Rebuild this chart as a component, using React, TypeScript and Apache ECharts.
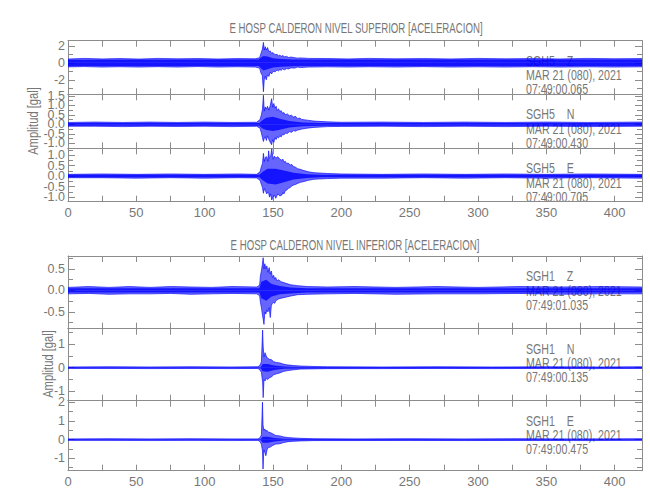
import React, { useEffect, useRef } from "react";
import * as echarts from "echarts";

// ---------- texts ----------
const titleTop = "E HOSP CALDERON NIVEL SUPERIOR [ACELERACION]";
const titleBottom = "E HOSP CALDERON NIVEL INFERIOR [ACELERACION]";
const yAxisTitle = "Amplitud [gal]";
const stationLabels = ["SGH5    Z", "SGH5    N", "SGH5    E", "SGH1    Z", "SGH1    N", "SGH1    E"];
const dateLabel = "MAR 21 (080), 2021";
const startTimes = ["07:49:00.065", "07:49:00.430", "07:49:00.705", "07:49:01.035", "07:49:00.135", "07:49:00.475"];

// ---------- axes ----------
const xMin = 0;
const xMax = 420;
const xStep = 50;
const yMins = [-3.7, -1.26, -1.22, -0.89, -1.39, -1.66];
const yMaxs = [2.6, 1.58, 1.32, 0.8, 1.64, 2.08];
const ySplitCounts = [3, 6, 5, 3, 3, 4];
const yDecimals = [0, 1, 1, 1, 0, 0];

// ---------- outer envelopes: [time s, upper, lower] ----------
const sgh5Z = [
  [0, 0.45, -0.48], [12, 0.52, -0.44], [25, 0.46, -0.5], [38, 0.5, -0.46], [52, 0.44, -0.5],
  [66, 0.52, -0.45], [80, 0.47, -0.5], [95, 0.5, -0.44], [110, 0.45, -0.5], [124, 0.5, -0.46],
  [137, 0.47, -0.5], [140.2, 0.6, -0.62], [141.2, 1.1, -1.2], [142.2, 1.6, -1.5], [143, 2.4, -3.4],
  [143.6, 1.5, -2.0], [144.3, 1.9, -1.6], [145.1, 1.5, -2.0], [146, 1.8, -1.4], [147, 1.3, -1.6],
  [148, 1.4, -1.1], [149, 1.1, -1.3], [150, 1.2, -1.0], [151.5, 0.95, -1.05], [153, 1.0, -0.85],
  [154, 0.8, -0.95], [155, 0.92, -0.8], [156, 0.75, -0.88], [157, 0.85, -0.72], [158.5, 0.7, -0.82],
  [160, 0.75, -0.68], [161.5, 0.62, -0.72], [163, 0.68, -0.6], [166, 0.6, -0.62], [168, 0.55, -0.5],
  [170, 0.58, -0.56], [176, 0.52, -0.5], [190, 0.5, -0.47], [205, 0.46, -0.5], [220, 0.52, -0.46],
  [240, 0.47, -0.5], [260, 0.5, -0.45], [280, 0.46, -0.5], [300, 0.52, -0.47], [320, 0.47, -0.5],
  [340, 0.5, -0.46], [360, 0.46, -0.5], [380, 0.52, -0.47], [400, 0.48, -0.5], [420, 0.5, -0.47],
];
const sgh5N = [
  [0, 0.1, -0.1], [20, 0.12, -0.1], [40, 0.1, -0.12], [60, 0.12, -0.1], [80, 0.1, -0.11],
  [100, 0.12, -0.1], [120, 0.1, -0.12], [138, 0.11, -0.1], [140.5, 0.25, -0.2], [141.5, 0.5, -0.45],
  [142.3, 0.8, -0.7], [143, 1.53, -0.9], [143.6, 0.7, -0.75], [144.3, 0.92, -0.65], [145.2, 0.8, -0.85],
  [146, 0.95, -0.6], [147, 0.75, -0.8], [148, 1.0, -0.95], [149, 1.35, -1.07], [149.8, 0.9, -0.8],
  [150.6, 1.1, -0.95], [151.5, 0.85, -0.7], [152.3, 0.95, -0.8], [153, 0.72, -0.65], [154, 0.82, -0.72],
  [155, 0.68, -0.6], [156, 0.72, -0.66], [157, 0.58, -0.52], [158, 0.62, -0.56], [159, 0.5, -0.46],
  [160.5, 0.55, -0.48], [162, 0.45, -0.38], [163.5, 0.48, -0.42], [165, 0.38, -0.33], [166.5, 0.42, -0.36],
  [168, 0.3, -0.3], [169.5, 0.33, -0.28], [171, 0.26, -0.25], [175, 0.22, -0.2], [180, 0.17, -0.16],
  [190, 0.13, -0.12], [200, 0.11, -0.11], [230, 0.12, -0.1], [260, 0.1, -0.12], [290, 0.12, -0.1],
  [320, 0.1, -0.12], [350, 0.12, -0.1], [380, 0.1, -0.12], [420, 0.12, -0.1],
];
const sgh5E = [
  [0, 0.08, -0.08], [25, 0.1, -0.08], [50, 0.08, -0.1], [75, 0.1, -0.08], [100, 0.08, -0.1],
  [125, 0.1, -0.08], [138, 0.08, -0.09], [140.5, 0.2, -0.2], [141.5, 0.45, -0.4], [142.3, 0.6, -0.55],
  [143, 1.08, -0.82], [143.7, 0.7, -0.6], [144.5, 0.9, -0.7], [145.4, 0.92, -0.85], [146.3, 0.7, -0.75],
  [146.8, 1.2, -0.8], [147.4, 0.85, -1.0], [148.2, 0.9, -0.85], [149.1, 1.3, -1.14], [150, 0.8, -1.0],
  [151, 0.95, -0.9], [152, 0.85, -1.06], [153.5, 0.92, -0.85], [155, 0.8, -0.95], [156.5, 0.75, -0.9],
  [157.3, 0.8, -0.78], [158, 0.66, -0.85], [159, 0.7, -0.7], [160, 0.6, -0.67], [161.2, 0.62, -0.58],
  [162.5, 0.52, -0.55], [163.8, 0.55, -0.47], [165, 0.45, -0.43], [166.5, 0.42, -0.4], [168, 0.35, -0.35],
  [170, 0.32, -0.3], [172, 0.27, -0.27], [176, 0.2, -0.2], [180, 0.16, -0.15], [190, 0.12, -0.12],
  [200, 0.1, -0.1], [230, 0.08, -0.1], [260, 0.1, -0.08], [290, 0.08, -0.1], [320, 0.1, -0.08],
  [350, 0.08, -0.1], [380, 0.1, -0.08], [420, 0.08, -0.1],
];
const sgh1Z = [
  [0, 0.07, -0.08], [15, 0.09, -0.07], [30, 0.07, -0.09], [45, 0.09, -0.08], [60, 0.07, -0.08],
  [75, 0.09, -0.07], [90, 0.08, -0.09], [105, 0.07, -0.08], [120, 0.09, -0.07], [138, 0.08, -0.08],
  [140.2, 0.12, -0.12], [140.8, 0.34, -0.28], [141.5, 0.45, -0.4], [142.2, 0.6, -0.55], [142.8, 0.76, -0.67],
  [143.4, 0.5, -0.79], [144, 0.62, -0.5], [144.8, 0.5, -0.55], [145.5, 0.57, -0.45], [146.3, 0.42, -0.5],
  [147.2, 0.53, -0.4], [148, 0.38, -0.63], [148.8, 0.45, -0.35], [149.6, 0.3, -0.3], [150.5, 0.35, -0.28],
  [151.3, 0.26, -0.3], [152, 0.3, -0.24], [153, 0.22, -0.22], [154, 0.25, -0.2], [156, 0.2, -0.18],
  [159, 0.17, -0.16], [163, 0.13, -0.13], [168, 0.11, -0.1], [175, 0.09, -0.09], [190, 0.08, -0.08],
  [210, 0.09, -0.07], [240, 0.07, -0.09], [270, 0.09, -0.08], [300, 0.07, -0.08], [330, 0.09, -0.07],
  [360, 0.08, -0.09], [390, 0.09, -0.08], [420, 0.08, -0.08],
];
const sgh1N = [
  [0, 0.03, -0.03], [30, 0.04, -0.03], [60, 0.03, -0.04], [90, 0.04, -0.03], [120, 0.03, -0.04],
  [139, 0.04, -0.03], [140.5, 0.1, -0.1], [141.5, 0.25, -0.2], [142.4, 1.58, -0.6], [142.8, 0.9, -1.26],
  [143.4, 0.45, -0.5], [144.2, 0.63, -0.56], [145, 0.5, -0.45], [146, 0.4, -0.5], [147.5, 0.35, -0.42],
  [149, 0.33, -0.38], [150.5, 0.25, -0.3], [152.5, 0.22, -0.26], [155, 0.2, -0.22], [157.5, 0.15, -0.16],
  [160, 0.12, -0.13], [165, 0.09, -0.09], [170, 0.07, -0.06], [180, 0.05, -0.05], [190, 0.04, -0.04],
  [230, 0.03, -0.04], [270, 0.04, -0.03], [310, 0.03, -0.04], [350, 0.04, -0.03], [390, 0.03, -0.04],
  [420, 0.04, -0.03],
];
const sgh1E = [
  [0, 0.04, -0.04], [30, 0.05, -0.04], [60, 0.04, -0.05], [90, 0.05, -0.04], [120, 0.04, -0.05],
  [139, 0.04, -0.04], [140.5, 0.1, -0.1], [141.5, 0.25, -0.25], [142.3, 2.0, -0.6], [142.7, 0.8, -1.57],
  [143.3, 0.5, -0.55], [144, 0.57, -0.68], [144.8, 0.45, -0.86], [145.6, 0.5, -0.55], [146.5, 0.4, -0.42],
  [148, 0.38, -0.4], [150, 0.3, -0.3], [152, 0.22, -0.24], [155, 0.2, -0.22], [158, 0.14, -0.15],
  [161, 0.11, -0.11], [165, 0.09, -0.09], [170, 0.07, -0.07], [180, 0.05, -0.05], [210, 0.04, -0.05],
  [250, 0.05, -0.04], [290, 0.04, -0.05], [330, 0.05, -0.04], [370, 0.04, -0.05], [420, 0.05, -0.04],
];

// ---------- dense cores (darkest part of each trace): [time s, upper, lower] ----------
const sgh5ZCore = [
  [0, 0.36, -0.38], [139.5, 0.38, -0.38], [141, 0.6, -0.6], [143, 0.8, -0.9], [146, 0.75, -0.75],
  [150, 0.55, -0.55], [156, 0.45, -0.45], [165, 0.4, -0.4], [175, 0.38, -0.38], [420, 0.38, -0.36],
];
const sgh5NCore = [
  [0, 0.07, -0.07], [140, 0.07, -0.07], [142, 0.2, -0.2], [145, 0.35, -0.3], [150, 0.4, -0.35],
  [155, 0.3, -0.28], [162, 0.18, -0.16], [172, 0.1, -0.1], [185, 0.07, -0.07], [420, 0.07, -0.07],
];
const sgh5ECore = [
  [0, 0.06, -0.06], [140, 0.06, -0.06], [142.5, 0.2, -0.2], [146, 0.35, -0.35], [152, 0.35, -0.4],
  [158, 0.26, -0.3], [165, 0.16, -0.16], [175, 0.09, -0.09], [185, 0.06, -0.06], [420, 0.06, -0.06],
];
const sgh1ZCore = [
  [0, 0.05, -0.05], [140, 0.05, -0.05], [141.5, 0.2, -0.18], [145, 0.25, -0.24], [149, 0.15, -0.14],
  [155, 0.1, -0.09], [163, 0.07, -0.07], [175, 0.05, -0.05], [420, 0.05, -0.05],
];
const sgh1NCore = [
  [0, 0.02, -0.02], [141, 0.02, -0.02], [142.5, 0.15, -0.15], [146, 0.15, -0.17], [151, 0.09, -0.1],
  [158, 0.05, -0.05], [168, 0.03, -0.03], [420, 0.02, -0.02],
];
const sgh1ECore = [
  [0, 0.025, -0.025], [141, 0.025, -0.025], [142.5, 0.15, -0.17], [146, 0.15, -0.16], [151, 0.09, -0.1],
  [158, 0.05, -0.05], [168, 0.03, -0.03], [420, 0.025, -0.025],
];

const traces = [sgh5Z, sgh5N, sgh5E, sgh1Z, sgh1N, sgh1E];
const cores = [sgh5ZCore, sgh5NCore, sgh5ECore, sgh1ZCore, sgh1NCore, sgh1ECore];

// ---------- layout (px) ----------
const W = 650;
const H = 500;
const plotLeft = 68;
const plotRight = 8;
const gridTops = [40.7, 94.3, 148.3, 256, 328.7, 400.7];
const gridHeights = [53.6, 54, 53.4, 72.7, 72, 70];
const labelRows = [20.5, 35, 49];

const FONT = "'Liberation Sans', Arial, sans-serif";
const TEXT = "#777777";
const LINE = "#8c8c8c";
const BLUE = "#0000ff";

export default function App() {
  const ref = useRef<HTMLDivElement>(null);

  useEffect(() => {
    if (!ref.current) return;
    const chart = echarts.init(ref.current, undefined, { renderer: "svg", width: W, height: H });

    const grids: any[] = [];
    const xAxes: any[] = [];
    const yAxes: any[] = [];
    const series: any[] = [];
    const graphics: any[] = [];

    const band = (i: number, data: number[][], col: number, opacity: number, width: number, tag: string) => ({
      type: "line",
      name: stationLabels[i].replace(/\s+/g, " ") + " " + tag,
      xAxisIndex: 2 * i,
      yAxisIndex: 2 * i,
      showSymbol: false,
      symbol: "none",
      silent: true,
      z: 3,
      lineStyle: { color: BLUE, width, opacity: width > 0 ? 0.9 : 0 },
      areaStyle: { color: BLUE, opacity, origin: 0 },
      data: data.map((p) => [p[0], p[col]]),
    });

    for (let i = 0; i < 6; i++) {
      grids.push({ left: plotLeft, right: plotRight, top: gridTops[i], height: gridHeights[i], containLabel: false });
      const showX = i === 2 || i === 5;
      ["bottom", "top"].forEach((pos) => {
        xAxes.push({
          type: "value",
          gridIndex: i,
          position: pos,
          min: xMin,
          max: xMax,
          interval: xStep,
          axisLine: { show: true, onZero: false, lineStyle: { color: LINE, width: 1 } },
          axisTick: { show: true, inside: true, length: 6, lineStyle: { color: LINE } },
          minorTick: { show: true, splitNumber: 2, length: 6, lineStyle: { color: LINE } },
          splitLine: { show: false },
          axisLabel: {
            show: pos === "bottom" && showX,
            showMaxLabel: false,
            margin: 4,
            color: TEXT,
            fontSize: 13,
            fontFamily: FONT,
          },
        });
      });
      ["left", "right"].forEach((pos) => {
        yAxes.push({
          type: "value",
          gridIndex: i,
          position: pos,
          min: yMins[i],
          max: yMaxs[i],
          splitNumber: ySplitCounts[i],
          axisLine: { show: true, onZero: false, lineStyle: { color: LINE, width: 1 } },
          axisTick: { show: true, inside: true, length: 7, lineStyle: { color: LINE } },
          minorTick: { show: true, splitNumber: 2, length: 5, lineStyle: { color: LINE } },
          splitLine: { show: false },
          axisLabel: {
            show: pos === "left",
            showMinLabel: false,
            showMaxLabel: false,
            margin: 3,
            color: TEXT,
            fontSize: 12.5,
            fontFamily: FONT,
            formatter: (v: number) => v.toFixed(yDecimals[i]),
          },
        });
      });

      series.push(band(i, traces[i], 1, 0.6, 0.7, "upper"));
      series.push(band(i, traces[i], 2, 0.6, 0.7, "lower"));
      series.push(band(i, cores[i], 1, 0.8, 0, "core upper"));
      series.push(band(i, cores[i], 2, 0.8, 0, "core lower"));

      const lines = [stationLabels[i], dateLabel, startTimes[i]];
      lines.forEach((txt, k) => {
        graphics.push({
          type: "text",
          x: 526,
          y: gridTops[i] + labelRows[k],
          z: 0,
          scaleX: 0.76,
          silent: true,
          style: { text: txt, fill: TEXT, fontSize: 14, fontFamily: FONT, align: "left", verticalAlign: "middle" },
        });
      });
    }

    graphics.push({
      type: "text", x: 356, y: 28, z: 0, scaleX: 0.69,
      style: { text: titleTop, fill: TEXT, fontSize: 14, fontFamily: FONT, align: "center", verticalAlign: "middle" },
    });
    graphics.push({
      type: "text", x: 355, y: 245, z: 0, scaleX: 0.69,
      style: { text: titleBottom, fill: TEXT, fontSize: 14, fontFamily: FONT, align: "center", verticalAlign: "middle" },
    });
    graphics.push({
      type: "text", x: 34, y: 121, rotation: Math.PI / 2, scaleX: 0.8, z: 0,
      style: { text: yAxisTitle, fill: TEXT, fontSize: 14, fontFamily: FONT, align: "center", verticalAlign: "middle" },
    });
    graphics.push({
      type: "text", x: 49, y: 364, rotation: Math.PI / 2, scaleX: 0.8, z: 0,
      style: { text: yAxisTitle, fill: TEXT, fontSize: 14, fontFamily: FONT, align: "center", verticalAlign: "middle" },
    });

    chart.setOption({
      animation: false,
      backgroundColor: "#ffffff",
      grid: grids,
      xAxis: xAxes,
      yAxis: yAxes,
      series,
      graphic: graphics,
    });

    return () => chart.dispose();
  }, []);

  return <div ref={ref} style={{ position: "fixed", left: 0, top: 0, width: W, height: H }} />;
}
